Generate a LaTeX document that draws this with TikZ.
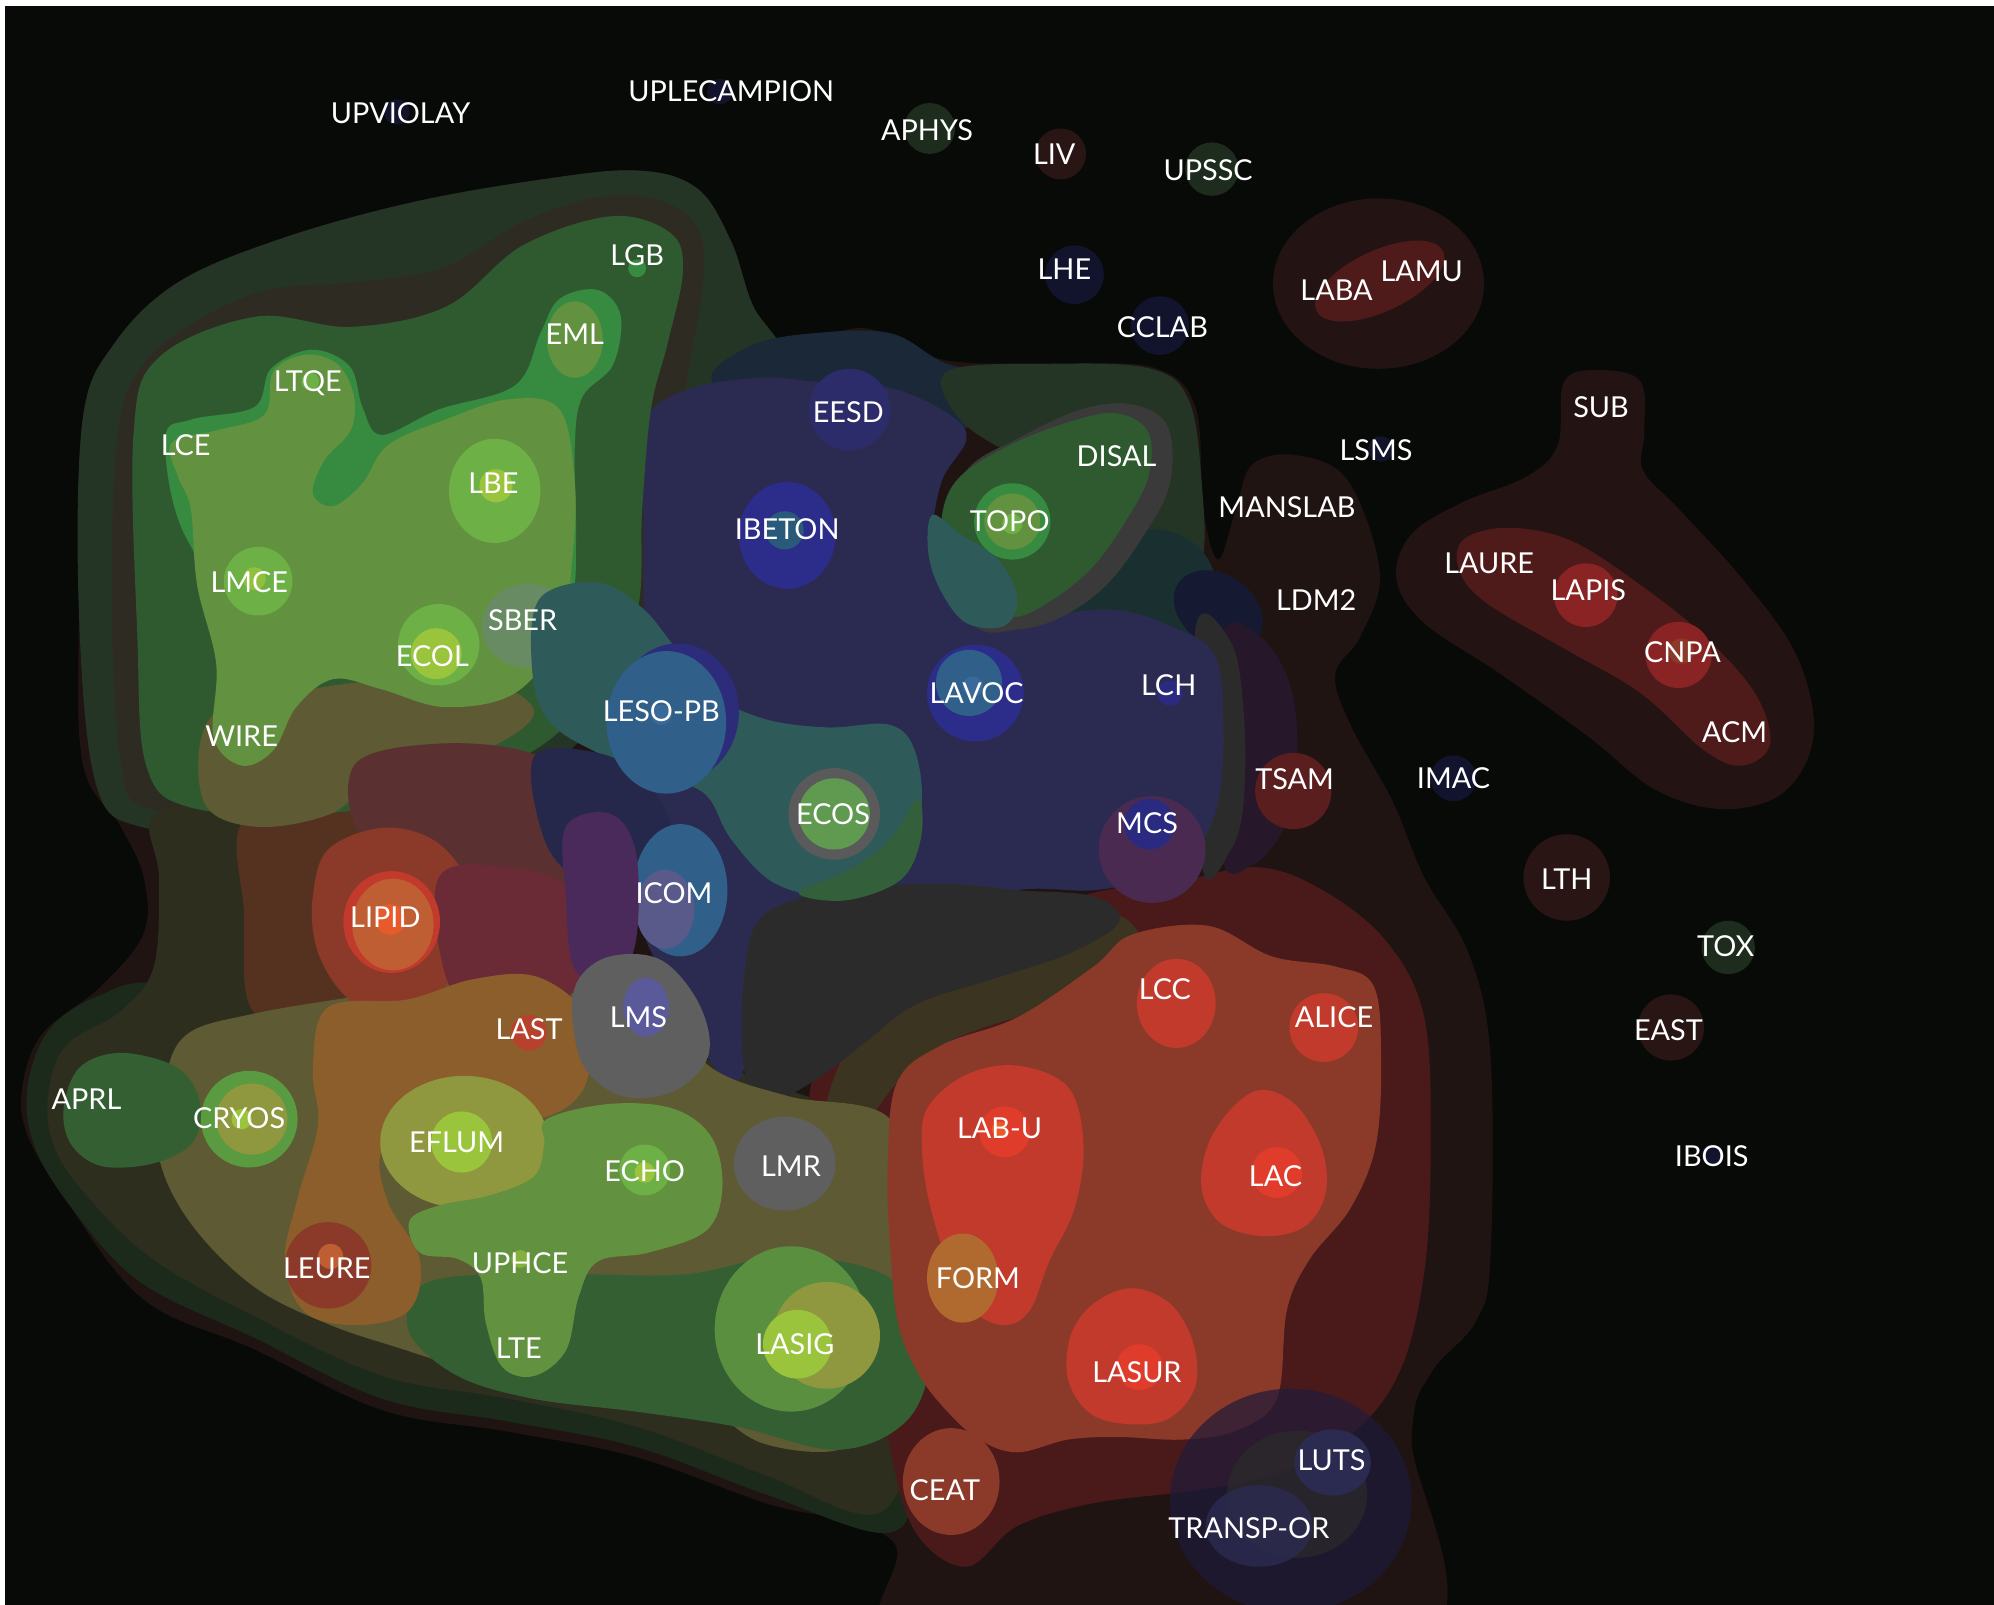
\documentclass[tikz,border=0pt]{standalone}
\usepackage{fontspec}
\setmainfont{Lato}
\definecolor{bgblack}{HTML}{080A08}
\definecolor{outermaroon}{HTML}{1F1412}
\definecolor{lonemaroon}{HTML}{2A1515}
\definecolor{lonegreen}{HTML}{1E2C1E}
\definecolor{lonenavy}{HTML}{12142E}
\definecolor{redouter}{HTML}{241313}
\definecolor{redinner}{HTML}{4E1A1A}
\definecolor{redspot}{HTML}{8A2424}
\definecolor{greenouter}{HTML}{253525}
\definecolor{brownband}{HTML}{2E2B22}
\definecolor{greendark}{HTML}{2F5A30}
\definecolor{greenbright}{HTML}{378B40}
\definecolor{olive}{HTML}{62913F}
\definecolor{lightgreen}{HTML}{6DB046}
\definecolor{yellowgreen}{HTML}{9AC43C}
\definecolor{yellowolive}{HTML}{8F973F}
\definecolor{sbergray}{HTML}{6A8A6A}
\definecolor{navy}{HTML}{2B2B52}
\definecolor{navytop}{HTML}{1A2838}
\definecolor{navyoval}{HTML}{151A32}
\definecolor{tealdark}{HTML}{1A3030}
\definecolor{channel}{HTML}{26182A}
\definecolor{bluedeep}{HTML}{2C2C8A}
\definecolor{bluemid}{HTML}{2C2C6A}
\definecolor{bluering}{HTML}{2C2C7A}
\definecolor{steel}{HTML}{30608A}
\definecolor{steelcore}{HTML}{3A6A9A}
\definecolor{tealblue}{HTML}{2A5A7A}
\definecolor{teal}{HTML}{2E5A5A}
\definecolor{darknavy}{HTML}{25284A}
\definecolor{ecosgreen}{HTML}{33603A}
\definecolor{ecosring}{HTML}{5A5A5A}
\definecolor{ecosinner}{HTML}{5F9A50}
\definecolor{grayblob}{HTML}{5F5F5F}
\definecolor{graydark}{HTML}{2B2B2B}
\definecolor{grayband}{HTML}{3A3A3A}
\definecolor{purple}{HTML}{4A2A5A}
\definecolor{purplered}{HTML}{6A2A36}
\definecolor{reddishbrown}{HTML}{5A3030}
\definecolor{brownleft}{HTML}{55321F}
\definecolor{greenbottom}{HTML}{1C2A1C}
\definecolor{outerolive}{HTML}{2E2E1F}
\definecolor{olivedark}{HTML}{3A3420}
\definecolor{olivebrown}{HTML}{5E5A33}
\definecolor{greenband}{HTML}{335F33}
\definecolor{orangebrown}{HTML}{8B5E2C}
\definecolor{redbrown}{HTML}{8B3A29}
\definecolor{brick}{HTML}{C23A2C}
\definecolor{redcore}{HTML}{E03C2C}
\definecolor{orangecore}{HTML}{E85A2A}
\definecolor{lipidorange}{HTML}{BF5E32}
\definecolor{formorange}{HTML}{B06A30}
\definecolor{reddark}{HTML}{4A1A1A}
\definecolor{lmspurple}{HTML}{5A5A9A}
\definecolor{icomgray}{HTML}{5A5A8A}
\definecolor{cryosring}{HTML}{5A9A40}
\definecolor{lasiggreen}{HTML}{5A8F40}
\definecolor{mcsblue}{HTML}{2A2A80}
\definecolor{mcshalo}{HTML}{4A2A50}
\definecolor{tsamred}{HTML}{5A1E1E}
\definecolor{transpnavy}{HTML}{1E1A3A}
\begin{document}
\begin{tikzpicture}[x=0.0127168cm, y=-0.0127168cm, region style/.style={smooth cycle, tension=0.6}, label style/.style={text=white, inner sep=0pt, font=\fontsize{8.2}{9}\selectfont}]
	\useasboundingbox (0,0) rectangle (1568,1262);
	\fill[white] (0,0) rectangle (1568,1262);
	\fill[bgblack] (4,5) rectangle (1568,1262);
	% lone blobs
	\fill[lonenavy] (312,88) circle [radius=10];
	\fill[lonenavy] (566,72) circle [radius=10];
	\fill[lonegreen] (731,101) circle [radius=20];
	\fill[lonemaroon] (834,121) circle [radius=20];
	\fill[lonegreen] (953,133) circle [radius=21];
	\fill[lonenavy] (845,216) circle [radius=23];
	\fill[lonenavy] (912,256) circle [radius=23];
	\fill[lonenavy] (1086,353) circle [radius=10];
	\fill[lonenavy] (1143,612) circle [radius=18];
	\fill[lonemaroon] (1232,690) circle [radius=34];
	\fill[lonegreen] (1359,745) circle [radius=21];
	\fill[lonemaroon] (1314,808) circle [radius=26];
	\fill[lonenavy] (1346,908) circle [radius=8];
	% LABA group
	\fill[redouter] (1084,223) ellipse [x radius=83, y radius=67];
	\fill[redinner, rotate around={25:(1085,221)}] (1085,221) ellipse [x radius=55, y radius=24];
	% SUB group
	\fill[redouter] plot[region style] coordinates {(1230,300) (1258,291) (1290,300) (1293,340) (1292,370) (1320,400) (1370,455) (1410,510) (1426,562) (1420,600) (1395,628) (1350,636) (1300,620) (1250,580) (1180,530) (1120,490) (1098,455) (1110,420) (1150,395) (1200,375) (1225,350)};
	\fill[redinner] plot[region style] coordinates {(1150,425) (1185,415) (1235,425) (1290,460) (1340,500) (1380,545) (1392,585) (1370,602) (1340,590) (1290,545) (1230,510) (1170,475) (1148,450)};
	\fill[redspot] (1247,468) circle [radius=25];
	\fill[redspot] (1320,515) circle [radius=26];
	\fill[redbrown] (1322,512) circle [radius=10];
	% main mass
	\fill[outermaroon] plot[region style] coordinates {(65,330) (90,270) (140,222) (220,188) (320,160) (420,142) (500,134) (548,148) (575,190) (592,240) (615,272) (680,258) (742,283) (830,286) (907,289) (940,320) (946,400) (958,440) (972,400) (985,365) (1020,358) (1060,378) (1085,450) (1070,500) (1050,530) (1062,570) (1095,630) (1120,690) (1155,750) (1172,830) (1172,990) (1160,1040) (1125,1080) (1110,1130) (1110,1300) (720,1300) (702,1212) (602,1182) (501,1146) (401,1126) (301,1109) (200,1061) (113,1022) (52,944) (21,891) (18,852) (34,812) (79,776) (113,734) (113,690) (95,650) (65,600) (62,480)};
	\fill[greenouter] plot[region style] coordinates {(65,330) (90,270) (140,222) (220,188) (320,160) (420,142) (500,134) (548,148) (575,190) (592,240) (615,275) (628,330) (600,420) (545,500) (480,560) (420,610) (330,640) (200,652) (110,650) (75,615) (62,480)};
	\fill[brownband] plot[region style] coordinates {(92,345) (110,290) (150,255) (210,228) (280,222) (350,210) (410,175) (470,155) (520,158) (550,182) (552,230) (540,300) (520,450) (460,540) (400,600) (300,630) (200,640) (115,635) (95,600) (88,480)};
	\fill[navytop] plot[region style] coordinates {(560,300) (590,272) (640,262) (700,262) (742,285) (790,300) (770,335) (700,330) (620,330)};
	\fill[greenouter] plot[region style] coordinates {(745,292) (830,286) (905,290) (935,315) (945,380) (945,440) (920,455) (890,430) (860,395) (800,360) (755,330)};
	\fill[greenbottom] plot[region style] coordinates {(22,852) (40,808) (80,782) (130,772) (300,780) (500,840) (700,900) (740,1000) (720,1150) (700,1205) (602,1175) (501,1138) (401,1118) (301,1100) (200,1052) (110,1008) (55,948) (26,898)};
	\fill[outerolive] plot[region style] coordinates {(38,860) (52,822) (95,795) (121,760) (125,690) (122,640) (200,640) (300,700) (450,790) (600,850) (720,900) (740,1000) (720,1120) (690,1190) (602,1160) (501,1122) (401,1100) (301,1082) (200,1035) (120,990) (68,940) (42,900)};
	\fill[brownleft] plot[region style] coordinates {(194,642) (290,640) (300,700) (270,790) (230,805) (196,790) (192,720)};
	\fill[reddark] plot[region style] coordinates {(640,845) (700,795) (780,745) (850,705) (930,692) (990,682) (1040,700) (1090,740) (1120,800) (1125,900) (1120,1000) (1100,1080) (1060,1130) (1000,1160) (940,1172) (860,1182) (800,1200) (760,1232) (720,1205) (700,1140) (690,1060) (665,1000) (645,940)};
	% blue middle
	\fill[tealdark] plot[region style] coordinates {(800,470) (840,440) (880,420) (920,418) (950,440) (962,490) (930,505) (880,492) (830,492)};
	\fill[navyoval, rotate around={-35:(958,480)}] (958,480) ellipse [x radius=38, y radius=28];
	\fill[channel] plot[region style] coordinates {(960,505) (990,500) (1015,540) (1020,600) (1010,650) (985,680) (960,670)};
	\fill[graydark] plot[region style] coordinates {(940,495) (968,505) (978,560) (978,630) (968,668) (945,680)};
	\fill[navy] plot[region style] coordinates {(508,330) (545,305) (600,297) (640,300) (700,305) (745,325) (760,345) (740,380) (735,430) (760,480) (800,490) (840,482) (880,480) (920,492) (955,515) (962,570) (958,630) (940,668) (905,690) (860,700) (800,700) (740,720) (700,740) (650,760) (600,800) (580,850) (555,830) (530,780) (505,730) (500,660) (505,560) (506,480) (506,400)};
	\fill[olivedark] plot[region style] coordinates {(650,870) (680,800) (730,750) (800,725) (880,720) (900,760) (860,790) (800,800) (740,822) (705,852) (680,880)};
	\fill[graydark] plot[region style] coordinates {(600,720) (660,700) (740,695) (800,700) (860,705) (880,725) (840,750) (780,770) (720,790) (680,820) (640,850) (600,868) (585,840) (585,770)};
	% green upper left
	\fill[greendark] plot[region style] coordinates {(105,341) (125,281) (201,249) (276,257) (351,241) (411,193) (481,170) (527,183) (537,213) (525,270) (512,321) (505,400) (501,481) (470,540) (420,590) (330,625) (250,640) (150,635) (115,602) (108,500)};
	\fill[olivebrown] plot[region style] coordinates {(165,565) (230,545) (300,535) (380,535) (420,560) (380,590) (300,610) (260,640) (200,650) (160,630)};
	\fill[reddishbrown] plot[region style] coordinates {(280,600) (340,585) (410,590) (450,615) (470,670) (440,700) (380,690) (320,670) (280,650)};
	\fill[greenbright] plot[region style] coordinates {(130,345) (150,330) (200,320) (213,290) (245,275) (275,288) (285,320) (300,342) (345,322) (405,303) (425,262) (440,235) (470,228) (488,248) (482,287) (458,312) (452,350) (453,420) (450,470) (430,510) (380,515) (300,505) (200,485) (145,420)};
	\fill[olive] plot[region style] coordinates {(135,348) (172,338) (208,326) (215,292) (240,279) (265,286) (278,310) (276,338) (255,362) (246,388) (262,398) (285,380) (305,350) (350,330) (400,314) (440,322) (452,380) (450,440) (440,500) (405,545) (350,556) (300,542) (262,534) (233,556) (215,590) (190,602) (168,580) (170,522) (155,460) (150,400) (140,375)};
	\fill[lightgreen] (389,386) ellipse [x radius=36, y radius=41];
	\fill[yellowgreen] (390,382) circle [radius=13];
	\fill[lightgreen] (203,457) circle [radius=27];
	\fill[yellowgreen!80!lightgreen] (200,455) circle [radius=9];
	\fill[lightgreen] (345,507) circle [radius=32];
	\fill[yellowgreen] (343,514) circle [radius=20];
	\fill[sbergray, fill opacity=0.85] (415,492) ellipse [x radius=36, y radius=33];
	\fill[olive] (452,267) ellipse [x radius=22, y radius=30];
	\fill[lightgreen] (244,300) circle [radius=7];
	\fill[greenbright] (501,211) circle [radius=7];
	% blue details
	\fill[bluemid] (668,322) circle [radius=32];
	\fill[bluedeep] (619,421) ellipse [x radius=38, y radius=42];
	\fill[tealblue] (617,417) circle [radius=15];
	\fill[grayband] plot[region style] coordinates {(740,420) (760,370) (800,345) (850,322) (890,318) (918,335) (920,380) (900,420) (870,460) (835,485) (800,495) (765,490)};
	\fill[greendark] plot[region style] coordinates {(740,412) (752,378) (790,352) (840,332) (878,325) (903,340) (903,375) (885,410) (860,445) (830,470) (800,485) (770,480) (745,455)};
	\fill[teal] plot[region style] coordinates {(733,405) (755,420) (785,440) (800,470) (790,492) (760,490) (740,465) (730,435)};
	\fill[greenbright] (796,410) circle [radius=30];
	\fill[olive] (796,410) circle [radius=22];
	\fill[lightgreen] (796,412) circle [radius=8];
	\fill[teal] plot[region style] coordinates {(425,470) (470,458) (505,478) (530,508) (560,545) (600,565) (650,572) (700,570) (720,592) (724,640) (705,690) (660,705) (610,695) (575,660) (555,625) (520,610) (470,592) (430,565) (418,520)};
	\fill[ecosgreen] plot[region style] coordinates {(628,702) (668,684) (700,660) (722,628) (724,660) (708,692) (665,708)};
	\fill[darknavy] plot[region style] coordinates {(420,595) (470,592) (505,612) (528,650) (520,692) (490,702) (455,692) (428,660)};
	\fill[bluering] (533,560) ellipse [x radius=48, y radius=54];
	\fill[steel] (524,568) ellipse [x radius=47, y radius=56];
	\fill[steelcore] (520,562) circle [radius=8];
	\fill[steel] (535,700) ellipse [x radius=37, y radius=52];
	\fill[icomgray] (523,715) ellipse [x radius=23, y radius=31];
	\fill[ecosring] (656,640) circle [radius=36];
	\fill[ecosinner] (656,640) circle [radius=28];
	\fill[bluedeep] (767,545) circle [radius=38];
	\fill[steel] (762,537) circle [radius=26];
	\fill[steelcore] (765,540) circle [radius=8];
	\fill[mcsblue] (920,545) circle [radius=10];
	\fill[mcshalo] (906,668) circle [radius=42];
	\fill[mcsblue] (904,648) circle [radius=20];
	\fill[tsamred] (1017,622) circle [radius=30];
	% lower left
	\fill[olivebrown] plot[region style] coordinates {(128,860) (145,815) (200,797) (300,780) (370,765) (450,775) (520,795) (560,840) (620,862) (700,880) (712,960) (705,1050) (690,1110) (660,1140) (600,1135) (560,1108) (520,1082) (480,1100) (420,1100) (380,1082) (320,1062) (260,1042) (200,1012) (150,962) (125,910)};
	\fill[greenband] plot[region style] coordinates {(330,1012) (380,1002) (460,1002) (540,1002) (620,988) (700,1005) (730,1060) (715,1115) (660,1140) (580,1122) (500,1110) (420,1100) (360,1082) (322,1048)};
	\fill[greenband] plot[region style] coordinates {(50,872) (62,840) (92,828) (130,835) (150,850) (158,875) (150,900) (120,915) (80,917) (56,900)};
	\fill[redbrown] plot[region style] coordinates {(246,705) (258,668) (300,651) (340,660) (366,690) (370,730) (356,766) (335,792) (300,800) (282,792) (262,772) (248,742)};
	\fill[purplered] plot[region style] coordinates {(345,690) (400,682) (448,700) (460,760) (435,792) (385,795) (352,772)};
	\fill[purple] plot[region style] coordinates {(445,650) (480,640) (500,670) (500,740) (482,770) (452,762) (445,705)};
	\fill[brick] (308,725) ellipse [x radius=38, y radius=40];
	\fill[lipidorange] (309,727) ellipse [x radius=32, y radius=36];
	\fill[orangecore] (307,723) circle [radius=12];
	\fill[orangebrown] plot[region style] coordinates {(258,792) (320,786) (372,770) (422,768) (460,798) (462,848) (440,874) (398,882) (330,880) (300,905) (305,945) (330,990) (322,1030) (282,1042) (240,1032) (224,992) (234,942) (250,885) (246,840)};
	\fill[brick!80!orangebrown] (416,812) circle [radius=14];
	\fill[redbrown] (258,995) circle [radius=34];
	\fill[lipidorange] (260,988) circle [radius=10];
	\fill[cryosring] (196,880) circle [radius=38];
	\fill[yellowolive] (198,880) circle [radius=28];
	\fill[yellowgreen] (190,880) circle [radius=8];
	\fill[grayblob] plot[region style] coordinates {(455,770) (480,752) (520,755) (550,790) (557,830) (530,858) (490,862) (460,840) (450,800)};
	\fill[lmspurple] (508,792) ellipse [x radius=18, y radius=23];
	\fill[yellowolive] (365,898) ellipse [x radius=66, y radius=52];
	\fill[yellowgreen] (363,898) circle [radius=24];
	\fill[olive] plot[region style] coordinates {(430,880) (480,868) (530,872) (560,895) (568,935) (555,968) (510,985) (470,992) (455,1020) (445,1062) (420,1082) (395,1075) (382,1040) (378,1005) (360,990) (330,985) (322,960) (345,948) (385,940) (420,925) (428,900)};
	\fill[lightgreen] (507,920) circle [radius=20];
	\fill[yellowgreen] (507,922) circle [radius=8];
	\fill[yellowgreen!60!olive] (409,990) circle [radius=7];
	\fill[grayblob] (617,915) ellipse [x radius=40, y radius=37];
	\fill[lasiggreen] (622,1045) ellipse [x radius=60, y radius=65];
	\fill[yellowolive] (650,1050) circle [radius=42];
	\fill[yellowgreen] (627,1057) circle [radius=27];
	% red lower right
	\fill[redbrown] plot[region style] coordinates {(705,852) (740,822) (800,800) (860,760) (890,735) (950,728) (1000,752) (1050,760) (1080,775) (1086,830) (1082,900) (1062,950) (1030,990) (1012,1030) (1004,1100) (972,1125) (930,1132) (880,1130) (840,1132) (800,1142) (770,1132) (745,1110) (722,1080) (706,1040) (700,980) (698,920)};
	\fill[brick] plot[region style] coordinates {(730,870) (760,845) (800,838) (840,855) (852,900) (845,950) (825,992) (810,1030) (790,1042) (765,1030) (745,992) (730,942) (725,900)};
	\fill[redcore] (790,890) circle [radius=20];
	\fill[orangecore] (786,888) circle [radius=6];
	\fill[formorange] (757,1005) ellipse [x radius=28, y radius=35];
	\fill[brick] (925,789) ellipse [x radius=31, y radius=35];
	\fill[brick] (1041,808) circle [radius=27];
	\fill[brick] plot[region style] coordinates {(993,857) (1020,870) (1040,905) (1042,940) (1025,965) (993,972) (960,962) (945,935) (950,900) (970,870)};
	\fill[redcore] (1004,922) circle [radius=20];
	\fill[brick] plot[region style] coordinates {(890,1013) (920,1025) (938,1055) (940,1090) (920,1115) (890,1120) (858,1112) (840,1085) (842,1050) (860,1025)};
	\fill[redcore] (896,1075) circle [radius=18];
	\fill[redbrown] (748,1165) ellipse [x radius=38, y radius=42];
	\fill[transpnavy, fill opacity=0.7] (1015,1180) ellipse [x radius=95, y radius=88];
	\fill[graydark, fill opacity=0.7] (1020,1175) ellipse [x radius=55, y radius=50];
	\fill[navy] (1048,1150) ellipse [x radius=30, y radius=26];
	\fill[navy, fill opacity=0.8] (990,1200) ellipse [x radius=42, y radius=32];
	% labels
	\node[label style] (upviolay) at (315, 89) {UPVIOLAY};
	\node[label style] (uplecampion) at (575, 72) {UPLECAMPION};
	\node[label style] (aphys) at (729, 102) {APHYS};
	\node[label style] (liv) at (829, 121) {LIV};
	\node[label style] (upssc) at (950, 134) {UPSSC};
	\node[label style] (lgb) at (501, 201) {LGB};
	\node[label style] (lhe) at (837, 212) {LHE};
	\node[label style] (lamu) at (1118, 213) {LAMU};
	\node[label style] (laba) at (1051, 228) {LABA};
	\node[label style] (cclab) at (914, 257) {CCLAB};
	\node[label style] (eml) at (452, 263) {EML};
	\node[label style] (ltqe) at (242, 301) {LTQE};
	\node[label style] (sub) at (1259, 320) {SUB};
	\node[label style] (eesd) at (667, 324) {EESD};
	\node[label style] (lce) at (146, 350) {LCE};
	\node[label style] (lsms) at (1082, 354) {LSMS};
	\node[label style] (disal) at (878, 359) {DISAL};
	\node[label style] (lbe) at (388, 380) {LBE};
	\node[label style] (manslab) at (1012, 399) {MANSLAB};
	\node[label style] (topo) at (794, 410) {TOPO};
	\node[label style] (ibeton) at (619, 416) {IBETON};
	\node[label style] (laure) at (1171, 443) {LAURE};
	\node[label style] (lmce) at (196, 458) {LMCE};
	\node[label style] (lapis) at (1249, 464) {LAPIS};
	\node[label style] (ldm2) at (1035, 472) {LDM2};
	\node[label style] (sber) at (411, 488) {SBER};
	\node[label style] (cnpa) at (1323, 513) {CNPA};
	\node[label style] (ecol) at (340, 516) {ECOL};
	\node[label style] (lch) at (919, 539) {LCH};
	\node[label style] (lavoc) at (768, 545) {LAVOC};
	\node[label style] (lesopb) at (520, 559) {LESO-PB};
	\node[label style] (acm) at (1364, 576) {ACM};
	\node[label style] (wire) at (190, 579) {WIRE};
	\node[label style] (tsam) at (1018, 613) {TSAM};
	\node[label style] (imac) at (1143, 612) {IMAC};
	\node[label style] (ecos) at (655, 640) {ECOS};
	\node[label style] (mcs) at (902, 647) {MCS};
	\node[label style] (lth) at (1232, 691) {LTH};
	\node[label style] (icom) at (530, 702) {ICOM};
	\node[label style] (lipid) at (303, 721) {LIPID};
	\node[label style] (tox) at (1357, 744) {TOX};
	\node[label style] (lcc) at (916, 778) {LCC};
	\node[label style] (alice) at (1049, 800) {ALICE};
	\node[label style] (lms) at (502, 800) {LMS};
	\node[label style] (last) at (416, 809) {LAST};
	\node[label style] (east) at (1312, 810) {EAST};
	\node[label style] (aprl) at (68, 864) {APRL};
	\node[label style] (cryos) at (188, 879) {CRYOS};
	\node[label style] (labu) at (786, 887) {LAB-U};
	\node[label style] (eflum) at (359, 898) {EFLUM};
	\node[label style] (ibois) at (1346, 909) {IBOIS};
	\node[label style] (lmr) at (622, 917) {LMR};
	\node[label style] (echo) at (507, 921) {ECHO};
	\node[label style] (lac) at (1003, 925) {LAC};
	\node[label style] (leure) at (257, 997) {LEURE};
	\node[label style] (uphce) at (409, 993) {UPHCE};
	\node[label style] (form) at (769, 1005) {FORM};
	\node[label style] (lasig) at (625, 1057) {LASIG};
	\node[label style] (lte) at (408, 1060) {LTE};
	\node[label style] (lasur) at (894, 1079) {LASUR};
	\node[label style] (luts) at (1047, 1148) {LUTS};
	\node[label style] (ceat) at (743, 1172) {CEAT};
	\node[label style] (transpor) at (982, 1202) {TRANSP-OR};
\end{tikzpicture}
\end{document}
